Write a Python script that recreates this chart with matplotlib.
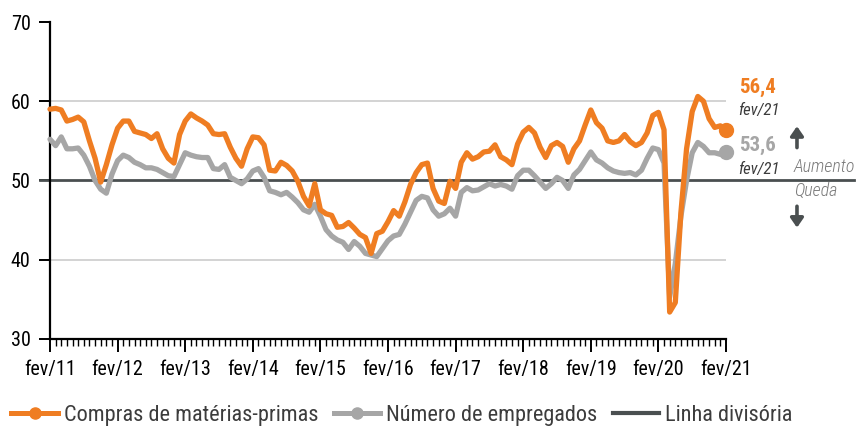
import matplotlib
matplotlib.use("Agg")
import matplotlib.pyplot as plt
from matplotlib import font_manager as fm
import numpy as np
from matplotlib.lines import Line2D

# pick a narrow font if one is installed
names = {f.name: f for f in fm.fontManager.ttflist}
narrow = None
for cand in ["Liberation Sans Narrow", "Roboto Condensed", "Open Sans Condensed",
             "Noto Sans Condensed", "DejaVu Sans Condensed"]:
    if cand in names:
        narrow = cand
        break
stretch = "normal"
if narrow is None:
    if any("Condensed" in f.fname for f in fm.fontManager.ttflist if f.name == "DejaVu Sans"):
        narrow = "DejaVu Sans"
        stretch = "condensed"
    else:
        narrow = "Roboto"
plt.rcParams['font.family'] = [narrow, 'DejaVu Sans']
plt.rcParams['font.stretch'] = stretch

compras = [59.0, 59.1, 58.9, 57.5, 57.7, 58.0, 57.4, 55.0, 52.8, 49.8, 52.0, 54.5,
           56.6, 57.5, 57.5, 56.2, 56.0, 55.8, 55.3, 55.9, 54.0, 52.8, 52.2, 55.8,
           57.5, 58.4, 57.9, 57.5, 57.0, 55.9, 55.8, 55.9, 54.2, 52.8, 51.8, 54.0,
           55.5, 55.4, 54.5, 51.3, 51.2, 52.3, 51.9, 51.2, 49.9, 48.0, 46.8, 49.6,
           46.3, 45.8, 45.6, 44.1, 44.2, 44.7, 44.0, 43.2, 42.8, 40.8, 43.3, 43.6,
           44.8, 46.2, 45.5, 47.3, 49.5, 51.0, 52.0, 52.2, 49.0, 47.4, 47.1, 49.9,
           49.0, 52.3, 53.5, 52.7, 53.0, 53.6, 53.7, 54.5, 53.0, 52.6, 52.0, 54.6,
           56.1, 56.7, 56.0, 54.2, 52.9, 54.4, 54.8, 54.3, 52.3, 54.0, 55.0, 57.0,
           58.9, 57.3, 56.6, 55.0, 54.8, 55.0, 55.8, 54.9, 54.4, 54.8, 56.0, 58.2,
           58.6, 56.4, 33.4, 34.6, 46.0, 54.0, 58.7, 60.6, 60.0, 57.8, 56.7, 56.9,
           56.4]

empregados = [55.2, 54.4, 55.5, 54.0, 54.0, 54.1, 53.2, 51.8, 50.0, 48.9, 48.4, 50.8,
              52.5, 53.2, 52.9, 52.3, 52.0, 51.6, 51.6, 51.4, 51.0, 50.6, 50.5, 52.0,
              53.5, 53.2, 53.0, 52.9, 52.9, 51.5, 51.4, 52.0, 50.4, 50.0, 49.6, 50.2,
              51.2, 51.5, 50.4, 48.7, 48.5, 48.2, 48.5, 47.9, 47.2, 46.3, 46.0, 47.0,
              45.5, 43.8, 43.0, 42.5, 42.2, 41.3, 42.3, 41.7, 40.8, 40.6, 40.4, 41.4,
              42.4, 43.0, 43.2, 44.5, 46.0, 47.5, 48.0, 47.8, 46.3, 45.5, 45.8, 46.5,
              45.5, 48.5, 49.1, 48.7, 48.8, 49.2, 49.6, 49.3, 49.5, 49.3, 48.9, 50.6,
              51.3, 51.3, 50.6, 49.8, 49.0, 49.6, 50.4, 50.0, 49.0, 50.7, 51.4, 52.5,
              53.6, 52.6, 52.2, 51.6, 51.2, 51.0, 50.9, 51.0, 50.7, 51.3, 52.8, 54.1,
              53.9, 52.2, 35.3, 39.5, 45.5, 50.0, 53.5, 54.8, 54.3, 53.5, 53.5, 53.3,
              53.6]

tick_labels = ["fev/11", "fev/12", "fev/13", "fev/14", "fev/15", "fev/16",
               "fev/17", "fev/18", "fev/19", "fev/20", "fev/21"]
linha_divisoria = 50
last_label = "fev/21"

ORANGE = "#EF7D22"
GREY = "#A6A6A6"
DARK = "#4A4F50"
TEXT = "#3C3C3C"

fig = plt.figure(figsize=(8.59, 4.26), dpi=100)
ax = fig.add_axes([50/859, 1 - 339/426, 676/859, 317/426])

x = np.arange(len(compras))

for g in (40, 60):
    ax.axhline(g, color="#CCCCCC", lw=1.2, zorder=1)

ax.axhline(linha_divisoria, xmin=-0.015, xmax=1.19, color=DARK, lw=2.0,
           clip_on=False, zorder=2)

ax.plot(x, empregados, color=GREY, lw=3.8, solid_joinstyle='round',
        solid_capstyle='round', zorder=3, clip_on=False)
ax.plot(x, compras, color=ORANGE, lw=3.8, solid_joinstyle='round',
        solid_capstyle='round', zorder=4, clip_on=False)
ax.plot([x[-1]], [empregados[-1]], 'o', color=GREY, ms=10, zorder=5, clip_on=False)
ax.plot([x[-1]], [compras[-1]], 'o', color=ORANGE, ms=10, zorder=6, clip_on=False)

ax.set_xlim(0, 120)
ax.set_ylim(30, 70)

for s in ("top", "right"):
    ax.spines[s].set_visible(False)
ax.spines["left"].set_color("black")
ax.spines["bottom"].set_color("black")
ax.spines["left"].set_linewidth(1.6)
ax.spines["bottom"].set_linewidth(1.6)

ax.set_xticks(np.arange(0, 121, 12))
ax.set_xticklabels(tick_labels)
ax.set_xticks(np.arange(0, 121, 1), minor=True)
ax.tick_params(axis="x", which="major", length=9, width=1.4, direction="out",
               labelsize=14.5, colors="black", pad=6)
ax.tick_params(axis="x", which="minor", length=5, width=1.0, direction="out")
ax.set_yticks([30, 40, 50, 60, 70])
ax.tick_params(axis="y", length=8, width=1.4, direction="out", labelsize=14.5, pad=6)

fmt = lambda v: f"{v:.1f}".replace(".", ",")
ax.text(122.4, 61.8, fmt(compras[-1]), color=ORANGE, fontsize=15, fontweight="bold",
        ha="left", va="center", clip_on=False)
ax.text(122.2, 58.8, last_label, color=TEXT, fontsize=12, style="italic",
        ha="left", va="center", clip_on=False)
ax.text(122.4, 54.4, fmt(empregados[-1]), color=GREY, fontsize=15, fontweight="bold",
        ha="left", va="center", clip_on=False)
ax.text(122.2, 51.4, last_label, color=TEXT, fontsize=12, style="italic",
        ha="left", va="center", clip_on=False)

ax.text(132.0, 51.7, "Aumento", color="#7A7A7A", fontsize=13, style="italic",
        fontweight="light", ha="left", va="center", clip_on=False)
ax.text(132.0, 48.7, "Queda", color="#7A7A7A", fontsize=13, style="italic",
        fontweight="light", ha="left", va="center", clip_on=False)
ax.annotate("", xy=(132.6, 57.2), xytext=(132.6, 53.8),
            arrowprops=dict(arrowstyle="-|>,head_width=0.38,head_length=0.55",
                            color=DARK, lw=2.6), annotation_clip=False)
ax.annotate("", xy=(132.6, 43.7), xytext=(132.6, 47.1),
            arrowprops=dict(arrowstyle="-|>,head_width=0.38,head_length=0.55",
                            color=DARK, lw=2.6), annotation_clip=False)

handles = [
    Line2D([], [], color=ORANGE, lw=3.6, marker='o', ms=8),
    Line2D([], [], color=GREY, lw=3.6, marker='o', ms=8),
    Line2D([], [], color=DARK, lw=3.0),
]
leg = fig.legend(handles, ["Compras de matérias-primas", "Número de empregados",
                           "Linha divisória"],
                 loc="lower left", bbox_to_anchor=(-0.010, -0.047), ncol=3,
                 frameon=False, fontsize=16, handlelength=2.1, numpoints=1,
                 columnspacing=0.7, handletextpad=0.25)
for t in leg.get_texts():
    t.set_color(TEXT)

fig.savefig("out.png", dpi=100)
